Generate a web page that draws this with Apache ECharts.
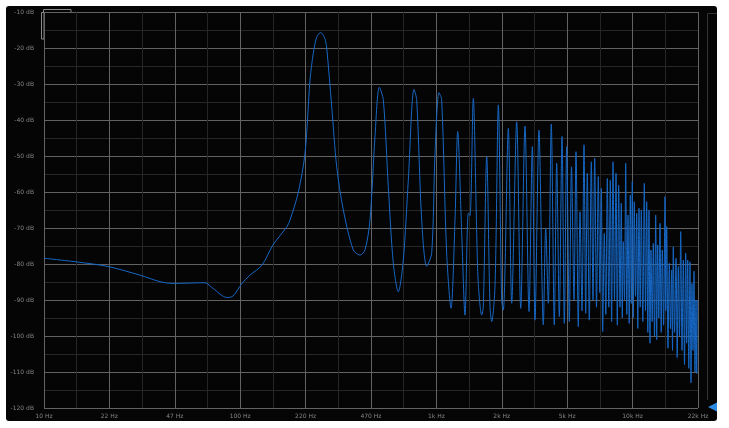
<!DOCTYPE html>
<html>
<head>
<meta charset="utf-8">
<script src="https://cdn.jsdelivr.net/npm/echarts@6/dist/echarts.min.js"></script>
<style>
  html, body { margin: 0; padding: 0; background: #ffffff; }
  #panel { position: absolute; left: 6px; top: 6px; width: 711px; height: 415px;
           background: #050505; border-radius: 3px; }
  #chart { position: absolute; left: 0; top: 0; width: 729px; height: 428px; }
</style>
</head>
<body>
<div id="panel"></div>
<div id="chart"></div>
<script>
// Spectrum of the measured signal: frequency (Hz) and level (dB)
const freqHz = [
  10, 14.56, 21.2, 30.85, 39.0, 45.4, 66.1, 72.7, 85.6, 91.9,
  102.1, 112.2, 129.2, 147.0, 173.2, 179.4, 197.1, 213.9, 226.9, 235.8,
  245.4, 257.2, 269.6, 276.1, 292.7, 310.4, 335.4, 377.1, 407.8, 432.5,
  458.6, 486.5, 511.7, 536.3, 568.7, 603.0, 639.4, 678.1, 719.1, 768.7,
  793.5, 841.5, 892.3, 946.2, 983.8, 1031, 1064, 1128, 1187, 1244,
  1284, 1346, 1399, 1454, 1484, 1542, 1605, 1635, 1702, 1734,
  1805, 1876, 1914, 1990, 2069, 2151, 2193, 2326, 2420, 2566,
  2690, 2829, 2965, 3082, 3181, 3333, 3507, 3607, 3718, 3851,
  3989, 4103, 4231, 4367, 4487, 4614, 4758, 4882, 5027, 5147,
  5287, 5394, 5522, 5653, 5767, 5876, 6016, 6159, 6283, 6410,
  6547, 6686, 6805, 6926, 7041, 7174, 7301, 7431, 7563, 7697,
  7816, 7945, 8086, 8230, 8357, 8495, 8626, 8758, 8861, 8966,
  9093, 9222, 9342, 9475, 9609, 9734, 9849, 9965, 10083, 10202,
  10346, 10493, 10629, 10780, 10933, 11075, 11272, 11472, 11635, 11800,
  11953, 12123, 12266, 12411, 12587, 12750, 12931, 13114, 13269, 13426,
  13600, 13793, 13989, 14170, 14388, 14627, 14765, 14921, 15151, 15384,
  15602, 15823, 15973, 16123, 16371, 16642, 16878, 17098, 17340, 17586,
  17857, 18131, 18388, 18649, 18869, 19092, 19340, 19614, 19846, 20080,
  20317, 20557, 20800, 21045, 21219, 21368
];
const levelDb = [
  -78.4, -79.4, -80.7, -83.1, -84.9, -85.4, -85.2, -86.8, -89.3, -88.9,
  -85.4, -83.1, -80.3, -74.7, -69.6, -67.8, -60.4, -49.3, -28.9, -21.5,
  -17.0, -15.7, -17.3, -20.1, -36.3, -53.0, -65.0, -76.1, -77.5, -76.1,
  -67.8, -44.6, -30.9, -34.4, -58.5, -79.8, -87.7, -78.9, -56.7, -31.5,
  -34.4, -67.8, -80.6, -77.0, -49.3, -32.4, -34.4, -77.0, -92.3, -67.8,
  -43.2, -71.5, -94.2, -65.9, -66.5, -34.0, -71.5, -85.4, -94.2, -91.9,
  -50.2, -91.9, -96.0, -86.0, -35.8, -90.0, -92.8, -42.3, -90.9, -40.5,
  -92.3, -41.7, -93.2, -47.4, -95.6, -42.8, -96.9, -70.1, -90.9, -41.1,
  -96.9, -52.0, -94.6, -44.6, -96.5, -47.4, -96.0, -53.0, -90.0, -48.8,
  -97.4, -65.5, -93.0, -46.9, -93.7, -54.8, -95.6, -51.6, -90.0, -50.6,
  -92.0, -55.7, -88.0, -59.0, -98.8, -71.5, -94.0, -56.2, -92.0, -56.7,
  -96.0, -51.6, -90.0, -54.8, -97.0, -58.1, -92.0, -63.1, -95.0, -73.8,
  -90.0, -52.0, -94.0, -66.4, -96.5, -60.8, -91.0, -57.1, -95.0, -62.7,
  -89.0, -65.9, -97.9, -64.5, -92.0, -65.0, -96.0, -57.6, -93.0, -62.7,
  -99.0, -65.0, -102.0, -76.1, -96.0, -74.3, -100.0, -66.4, -101.0, -74.7,
  -95.0, -68.7, -99.0, -76.1, -97.0, -61.3, -93.0, -69.6, -103.4, -79.8,
  -98.0, -81.7, -104.0, -75.2, -99.0, -78.4, -106.0, -80.7, -100.0, -71.0,
  -104.0, -78.9, -108.0, -77.0, -102.0, -78.9, -109.0, -79.4, -113.0, -85.4,
  -104.0, -82.0, -110.0, -90.0, -110.4, -90.0
];

// Frequency grid: one line per third of a decade, labelled with rounded values
const freqTickLabels = ['10 Hz', '22 Hz', '47 Hz', '100 Hz', '220 Hz', '470 Hz',
                        '1k Hz', '2k Hz', '5k Hz', '10k Hz', '22k Hz'];
const freqMin = 10;
const freqMax = 21544.35;

const dbMin = -120;
const dbMax = -10;

const MAJOR = '#636363';
const MINOR = '#262626';
const LABEL = '#858585';

const chart = echarts.init(document.getElementById('chart'), null, { renderer: 'canvas' });

const points = freqHz.map((f, i) => [f, levelDb[i]]);

chart.setOption({
  backgroundColor: 'transparent',
  animation: false,
  grid: { left: 44, top: 12, width: 654, height: 396, containLabel: false },
  xAxis: [
    {
      // decorative third-of-a-decade grid with labels
      type: 'value',
      min: 0,
      max: freqTickLabels.length - 1,
      interval: 0.5,
      position: 'bottom',
      axisLine: { show: false },
      axisTick: { show: false },
      splitLine: { show: true, lineStyle: { color: [MAJOR, MINOR], width: 1 } },
      axisLabel: {
        color: LABEL, fontSize: 6, fontFamily: 'DejaVu Sans', margin: 5,
        formatter: v => (Number.isInteger(v) ? freqTickLabels[v] : '')
      }
    },
    {
      // logarithmic frequency scale used by the trace
      type: 'log',
      min: freqMin,
      max: freqMax,
      show: false,
      splitLine: { show: false }
    }
  ],
  yAxis: {
    type: 'value',
    min: dbMin,
    max: dbMax,
    interval: 5,
    axisLine: { show: false },
    axisTick: { show: false },
    splitLine: { show: true, lineStyle: { color: [MAJOR, MINOR], width: 1 } },
    axisLabel: {
      color: LABEL, fontSize: 6, fontFamily: 'DejaVu Sans', margin: 10,
      formatter: v => (v % 10 === 0 ? v + ' dB' : '')
    }
  },
  series: [{
    type: 'line',
    xAxisIndex: 1,
    data: points,
    showSymbol: false,
    symbol: 'none',
    smooth: 0.3,
    lineStyle: { color: '#1768c6', width: 1 },
    z: 3
  }],
  graphic: [
    // scroll handles in the top-left corner
    { type: 'rect', shape: { x: 41.5, y: 12.5, width: 2.5, height: 26.5 },
      style: { fill: 'none', stroke: '#8a8a8a', lineWidth: 1 } },
    { type: 'rect', shape: { x: 43.5, y: 9.5, width: 27.5, height: 3 },
      style: { fill: 'none', stroke: '#8a8a8a', lineWidth: 1 } },
    // level slider track on the right
    { type: 'polyline', shape: { points: [[707.5, 400], [707.5, 13.5], [717, 13.5]] },
      style: { fill: 'none', stroke: '#333333', lineWidth: 1 } },
    { type: 'polygon', shape: { points: [[708, 407], [717, 402.5], [717, 411.5]] },
      style: { fill: '#2b8be2' } }
  ]
});
</script>
</body>
</html>
